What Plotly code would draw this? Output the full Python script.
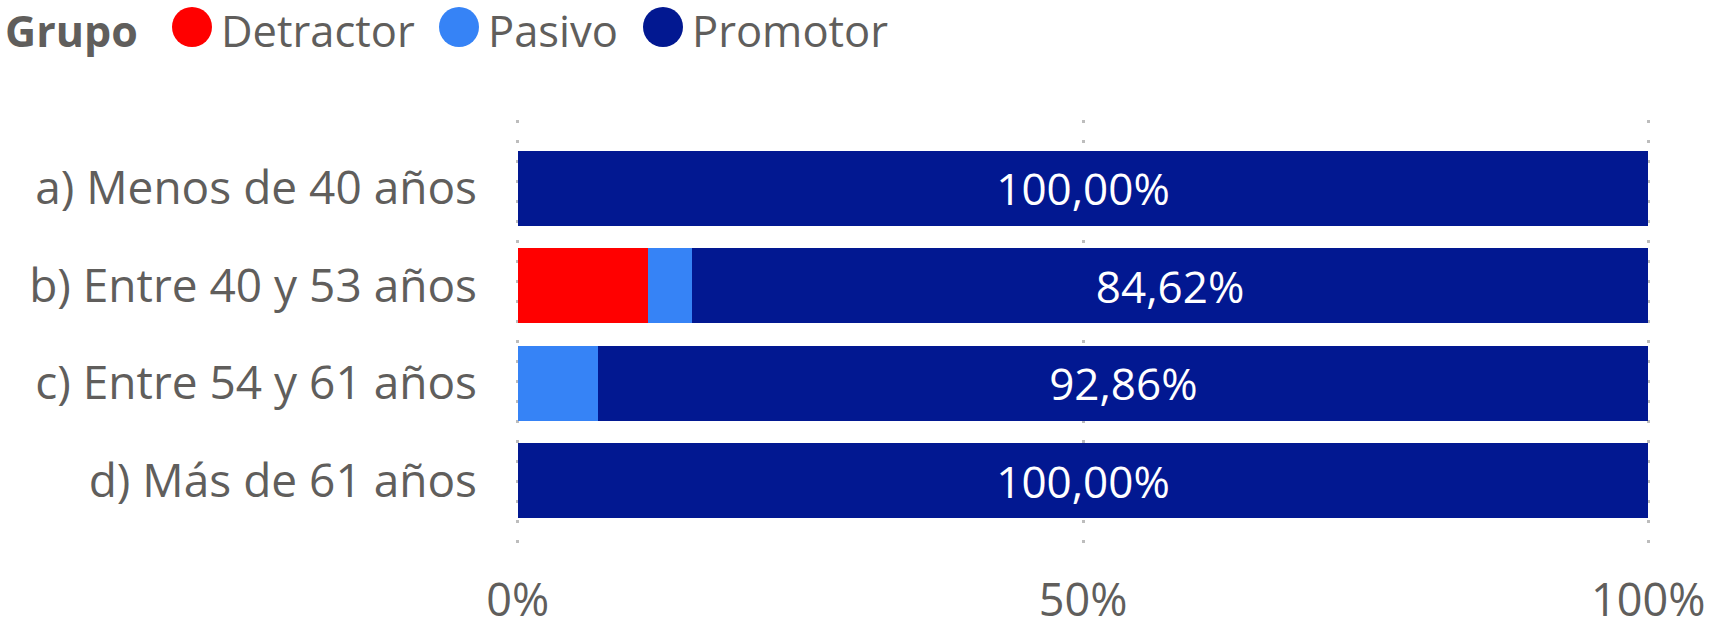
import plotly.graph_objects as go

categories = ["a) Menos de 40 años", "b) Entre 40 y 53 años", "c) Entre 54 y 61 años", "d) Más de 61 años"]
detractor = [0.0, 11.54, 0.0, 0.0]
pasivo = [0.0, 3.85, 7.14, 0.0]
promotor = [100.0, 84.62, 92.86, 100.0]
tick_vals = [0, 50, 100]
tick_text = ["0%", "50%", "100%"]

series = [("Detractor", detractor, "#FF0000"), ("Pasivo", pasivo, "#3683F6"), ("Promotor", promotor, "#021891")]

FONT = "Segoe UI, Open Sans, sans-serif"
GRAY = "#605E5C"

fig = go.Figure()
for name, vals, col in series:
    show = name == "Promotor"
    fig.add_trace(go.Bar(
        y=categories, x=vals, name=name, orientation="h",
        marker=dict(color=col, line=dict(width=0)),
        texttemplate="%{x:.2f}%" if show else "",
        textposition="inside", insidetextanchor="middle", textangle=0,
        insidetextfont=dict(family=FONT, size=44, color="white"),
        showlegend=False,
    ))

L, R, T, B = 516, 62, 120, 70
W, H = 1712, 630

fig.update_layout(
    width=W, height=H, barmode="stack", bargap=0.23,
    margin=dict(l=L, r=R, t=T, b=B, pad=0, autoexpand=False),
    paper_bgcolor="white", plot_bgcolor="white",
    separators=",.",
    font=dict(family=FONT, color=GRAY, size=44),
    xaxis=dict(range=[-0.15, 100.15], tickvals=tick_vals, ticktext=tick_text,
               showgrid=True, gridcolor="#BDBDBD", gridwidth=3, griddash="3px,17px",
               zeroline=False, showline=False, ticks="", ticklabelstandoff=10,
               automargin=False,
               tickfont=dict(family=FONT, size=45, color=GRAY)),
    yaxis=dict(range=[3.814, -0.701], showgrid=False, zeroline=False, showline=False,
               ticks="", ticklabelstandoff=38, automargin=False,
               tickfont=dict(family=FONT, size=46, color=GRAY)),
)

# Legend drawn manually (large circular swatches)
def px_x(px):
    return px - L

def px_y(py):
    return T - py

LEG_Y = 30
fig.add_annotation(text="<b>Grupo</b>", xref="paper", yref="paper", x=0, y=1,
                   xanchor="left", yanchor="middle", xshift=px_x(3), yshift=px_y(LEG_Y),
                   showarrow=False, font=dict(family=FONT, size=43, color=GRAY))
legend_items = [("Detractor", "#FF0000", 192, 219), ("Pasivo", "#3683F6", 459, 486), ("Promotor", "#021891", 663, 690)]
for name, col, cx, tx in legend_items:
    fig.add_shape(type="circle", xref="paper", yref="paper", xsizemode="pixel", ysizemode="pixel",
                  xanchor=0, yanchor=1, x0=px_x(cx) - 20, x1=px_x(cx) + 20,
                  y0=px_y(27) - 20, y1=px_y(27) + 20,
                  fillcolor=col, line=dict(width=0))
    fig.add_annotation(text=name, xref="paper", yref="paper", x=0, y=1,
                       xanchor="left", yanchor="middle", xshift=px_x(tx), yshift=px_y(LEG_Y),
                       showarrow=False, font=dict(family=FONT, size=43.5, color=GRAY))

fig.write_html("out.html", config={"displayModeBar": False},
               post_script="document.body.style.margin='0';")
